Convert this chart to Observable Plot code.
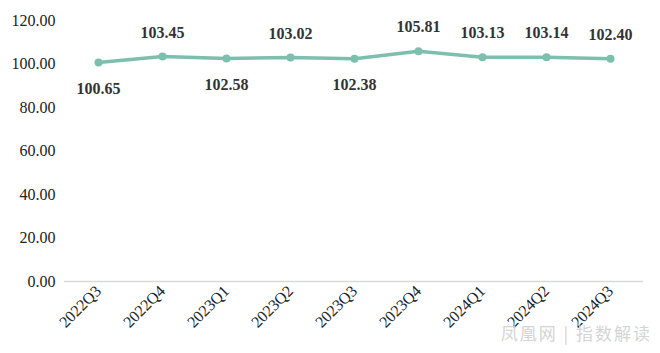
<!DOCTYPE html>
<html><head><meta charset="utf-8">
<script src="https://cdn.jsdelivr.net/npm/d3@7"></script>
<script src="https://cdn.jsdelivr.net/npm/@observablehq/plot@0.6"></script>
<style>
body{margin:0;background:#fff;}
#wrap{position:relative;width:660px;height:353px;}
#wm{position:absolute;right:8px;bottom:8px;font:17px "Noto Sans CJK SC",sans-serif;color:#d4d4d4;letter-spacing:2px;}
</style></head><body>
<div id="wrap"><div id="chart"></div><div id="wm">凤凰网 | 指数解读</div></div>
<script>
const quarters = ["2022Q3","2022Q4","2023Q1","2023Q2","2023Q3","2023Q4","2024Q1","2024Q2","2024Q3"];
const values = [100.65,103.45,102.58,103.02,102.38,105.81,103.13,103.14,102.40];
const labelAbove = [false,true,false,true,false,true,true,true,true];
const yTicks = [0,20,40,60,80,100,120];

const data = quarters.map((q,i)=>({q, v:values[i], above:labelAbove[i]}));
const serif = "'Liberation Serif','Times New Roman',serif";
const color = "#7dbfae";

const chart = Plot.plot({
  width:660, height:353,
  marginLeft:64, marginRight:17, marginTop:20, marginBottom:72,
  style:{fontFamily:serif, fontSize:"16px", color:"#222", background:"#fff"},
  x:{type:"point", domain:quarters, padding:0.516, label:null, tickSize:0, tickRotate:-45, tickPadding:7},
  y:{domain:[0,120], ticks:yTicks, tickFormat:d=>d.toFixed(2), label:null, tickSize:0, tickPadding:9},
  marks:[
    Plot.ruleY([0],{stroke:"#d9d9d9", strokeWidth:1.5}),
    Plot.line(data,{x:"q", y:"v", stroke:color, strokeWidth:3.5}),
    Plot.dot(data,{x:"q", y:"v", fill:color, r:4}),
    Plot.text(data.filter(d=>d.above),{x:"q", y:"v", text:d=>d.v.toFixed(2), dy:-24, fontWeight:"bold", fontSize:16, fill:"#333"}),
    Plot.text(data.filter(d=>!d.above),{x:"q", y:"v", text:d=>d.v.toFixed(2), dy:26, fontWeight:"bold", fontSize:16, fill:"#333"})
  ]
});
document.getElementById("chart").appendChild(chart);
</script>
</body></html>
